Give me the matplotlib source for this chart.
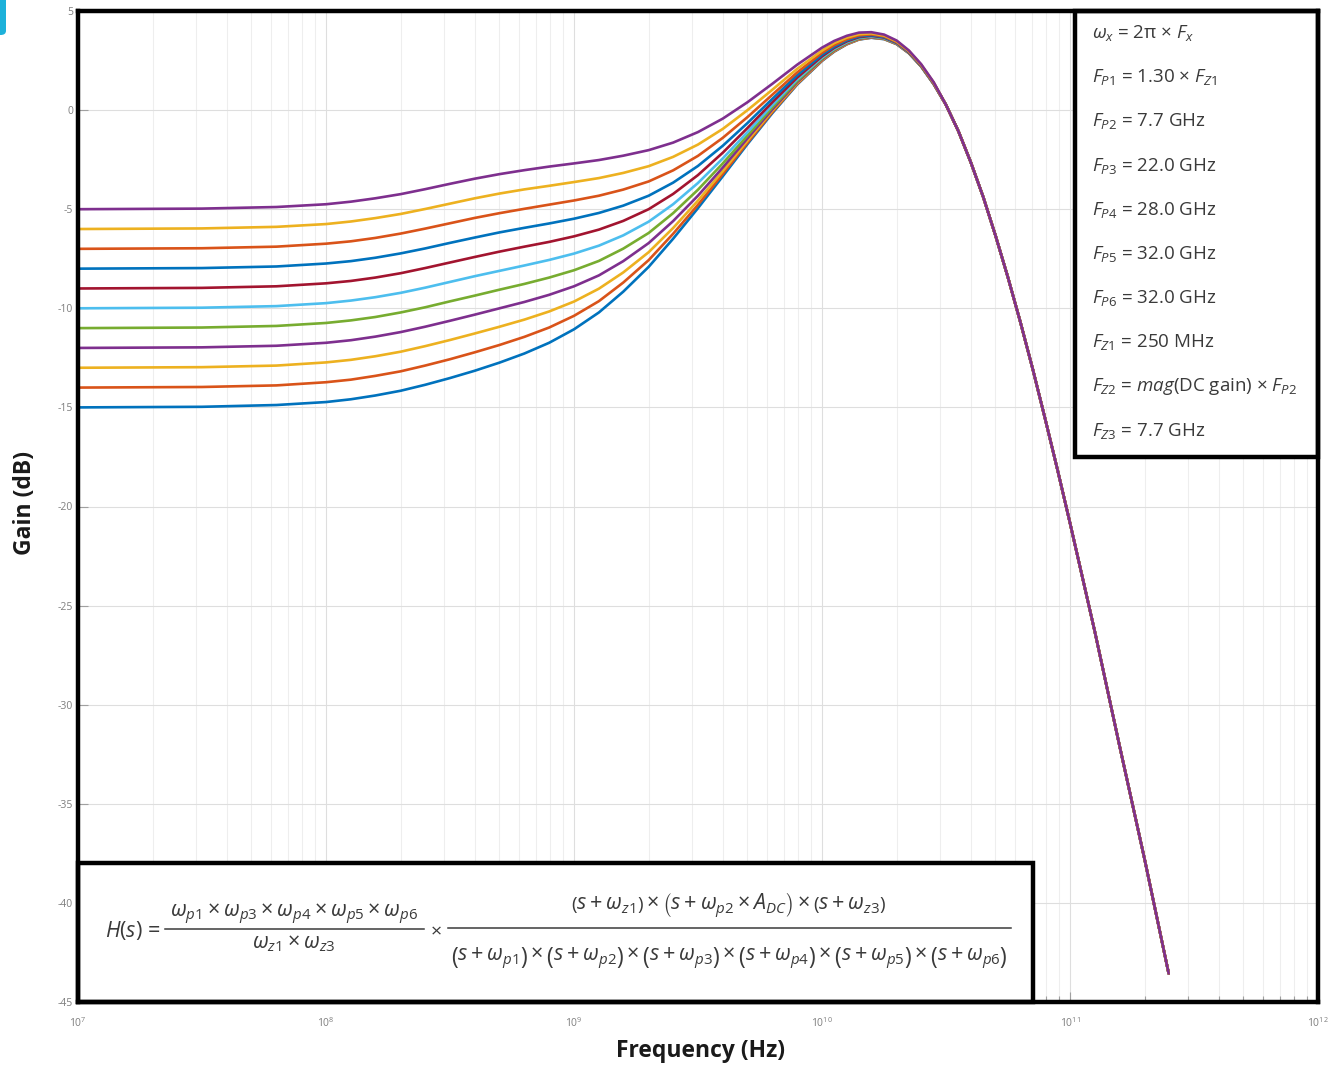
import numpy as np
import matplotlib
matplotlib.use("Agg")
import matplotlib.pyplot as plt
from matplotlib.patches import Rectangle, FancyBboxPatch
from matplotlib.lines import Line2D
from matplotlib.ticker import LogLocator, NullFormatter, FixedLocator

plt.rcParams['font.family'] = ['Open Sans', 'DejaVu Sans']
plt.rcParams['mathtext.fontset'] = 'custom'
plt.rcParams['mathtext.rm'] = 'Open Sans'
plt.rcParams['mathtext.it'] = 'Open Sans:italic'
plt.rcParams['mathtext.bf'] = 'Open Sans:bold'
plt.rcParams['axes.unicode_minus'] = False

# ---------------- data (read / estimated from the reference) ----------------
freq_lo = [1e7, 3.16e7, 6.31e7, 1e8, 1.26e8, 1.58e8, 2e8, 2.51e8, 3.16e8, 3.98e8, 5.01e8,
           6.31e8, 7.94e8, 1e9, 1.26e9, 1.58e9, 2e9, 2.51e9, 3.16e9, 3.98e9, 5.01e9, 6.31e9,
           7.94e9, 1e10, 1.12e10, 1.26e10, 1.41e10, 1.58e10, 1.78e10, 2e10, 2.24e10, 2.51e10, 2.82e10]
freq_hi = [3.16e10, 3.55e10, 3.98e10, 4.47e10, 5.01e10, 5.62e10, 6.31e10, 7.08e10, 7.94e10,
           8.91e10, 1e11, 1.26e11, 1.58e11, 2e11, 2.5e11]

gain_m5 = [-5.00, -4.97, -4.89, -4.75, -4.62, -4.45, -4.24, -3.99, -3.72, -3.46, -3.23, -3.03, -2.85, -2.69, -2.52, -2.30, -2.02, -1.64, -1.11, -0.43, 0.40, 1.33, 2.29, 3.15, 3.49, 3.75, 3.91, 3.93, 3.81, 3.51, 3.01, 2.32, 1.41]
gain_m6 = [-6.00, -5.97, -5.89, -5.75, -5.62, -5.45, -5.24, -4.99, -4.72, -4.45, -4.21, -4.00, -3.82, -3.63, -3.43, -3.17, -2.83, -2.36, -1.74, -0.95, 0.00, 1.03, 2.08, 3.00, 3.38, 3.66, 3.83, 3.87, 3.76, 3.47, 2.98, 2.29, 1.39]
gain_m7 = [-7.00, -6.97, -6.89, -6.74, -6.62, -6.45, -6.23, -5.98, -5.71, -5.44, -5.20, -4.98, -4.77, -4.56, -4.32, -4.01, -3.60, -3.04, -2.31, -1.40, -0.35, 0.78, 1.90, 2.89, 3.28, 3.58, 3.77, 3.82, 3.72, 3.43, 2.96, 2.27, 1.37]
gain_m8 = [-8.00, -7.97, -7.89, -7.74, -7.62, -7.45, -7.23, -6.98, -6.70, -6.43, -6.17, -5.94, -5.72, -5.48, -5.19, -4.82, -4.32, -3.66, -2.82, -1.80, -0.65, 0.57, 1.76, 2.79, 3.20, 3.52, 3.72, 3.78, 3.68, 3.41, 2.94, 2.25, 1.36]
gain_m9 = [-9.00, -8.97, -8.89, -8.74, -8.62, -8.45, -8.23, -7.97, -7.69, -7.41, -7.14, -6.89, -6.65, -6.37, -6.03, -5.59, -5.00, -4.23, -3.28, -2.15, -0.90, 0.40, 1.64, 2.71, 3.14, 3.47, 3.68, 3.75, 3.66, 3.39, 2.92, 2.24, 1.35]
gain_m10 = [-10.00, -9.97, -9.89, -9.74, -9.61, -9.44, -9.22, -8.96, -8.67, -8.38, -8.11, -7.84, -7.56, -7.24, -6.84, -6.32, -5.63, -4.75, -3.68, -2.44, -1.11, 0.26, 1.55, 2.65, 3.09, 3.43, 3.65, 3.72, 3.64, 3.37, 2.91, 2.23, 1.34]
gain_m11 = [-11.00, -10.97, -10.89, -10.74, -10.61, -10.44, -10.21, -9.95, -9.65, -9.36, -9.06, -8.77, -8.45, -8.08, -7.61, -6.99, -6.20, -5.20, -4.02, -2.69, -1.28, 0.14, 1.47, 2.60, 3.05, 3.40, 3.62, 3.70, 3.62, 3.36, 2.90, 2.22, 1.33]
gain_m12 = [-12.00, -11.97, -11.89, -11.74, -11.61, -11.43, -11.20, -10.93, -10.63, -10.32, -10.00, -9.68, -9.32, -8.89, -8.34, -7.62, -6.71, -5.60, -4.32, -2.90, -1.42, 0.04, 1.41, 2.56, 3.02, 3.37, 3.60, 3.68, 3.61, 3.35, 2.89, 2.22, 1.32]
gain_m13 = [-13.00, -12.97, -12.89, -12.73, -12.60, -12.42, -12.19, -11.91, -11.60, -11.27, -10.93, -10.57, -10.16, -9.66, -9.01, -8.19, -7.17, -5.95, -4.57, -3.08, -1.54, -0.03, 1.36, 2.53, 2.99, 3.35, 3.58, 3.67, 3.60, 3.34, 2.88, 2.21, 1.32]
gain_m14 = [-14.00, -13.97, -13.89, -13.73, -13.60, -13.41, -13.18, -12.89, -12.57, -12.22, -11.85, -11.44, -10.97, -10.38, -9.64, -8.70, -7.57, -6.24, -4.78, -3.22, -1.64, -0.10, 1.32, 2.50, 2.97, 3.33, 3.57, 3.66, 3.59, 3.33, 2.88, 2.21, 1.32]
gain_m15 = [-15.00, -14.97, -14.88, -14.73, -14.59, -14.40, -14.16, -13.86, -13.52, -13.15, -12.74, -12.28, -11.74, -11.06, -10.21, -9.16, -7.91, -6.49, -4.95, -3.34, -1.71, -0.15, 1.29, 2.48, 2.95, 3.32, 3.56, 3.65, 3.58, 3.33, 2.87, 2.20, 1.31]
gain_tail = [0.27, -1.07, -2.63, -4.39, -6.34, -8.44, -10.70, -13.08, -15.58, -18.16, -20.83, -26.33, -32.01, -37.81, -43.56]

series = [gain_m15, gain_m14, gain_m13, gain_m12, gain_m11, gain_m10,
          gain_m9, gain_m8, gain_m7, gain_m6, gain_m5]
y_ticks = [-45, -40, -35, -30, -25, -20, -15, -10, -5, 0, 5]

param_lines = [r"$\omega_{x}$ = 2π × $F_{x}$",
               r"$F_{P1}$ = 1.30 × $F_{Z1}$",
               r"$F_{P2}$ = 7.7 GHz",
               r"$F_{P3}$ = 22.0 GHz",
               r"$F_{P4}$ = 28.0 GHz",
               r"$F_{P5}$ = 32.0 GHz",
               r"$F_{P6}$ = 32.0 GHz",
               r"$F_{Z1}$ = 250 MHz",
               r"$F_{Z2}$ = $mag$(DC gain) × $F_{P2}$",
               r"$F_{Z3}$ = 7.7 GHz"]

eq_lhs = r"$H(s)$ ="
eq_num1 = r"$\omega_{p1}\times\omega_{p3}\times\omega_{p4}\times\omega_{p5}\times\omega_{p6}$"
eq_den1 = r"$\omega_{z1}\times\omega_{z3}$"
eq_num2 = (r"$\left(s+\omega_{z1}\right)\times\left(s+\omega_{p2}\times A_{DC}\right)"
           r"\times\left(s+\omega_{z3}\right)$")
eq_den2 = (r"$\left(s+\omega_{p1}\right)\times\left(s+\omega_{p2}\right)\times\left(s+\omega_{p3}\right)"
           r"\times\left(s+\omega_{p4}\right)\times\left(s+\omega_{p5}\right)\times\left(s+\omega_{p6}\right)$")

colors = ['#0072BD', '#D95319', '#EDB120', '#7E2F8E', '#77AC30', '#4DBEEE', '#A2142F']

# ---------------- figure ----------------
W, Hh = 1332, 1065
fig = plt.figure(figsize=(W/100, Hh/100), dpi=100)
L, R, T, B = 78, 1318, 11, 1002
ax = fig.add_axes([L/W, 1-B/Hh, (R-L)/W, (B-T)/Hh])
ax.set_xscale('log')
ax.set_xlim(1e7, 1e12)
ax.set_ylim(-45, 5)

x_all = freq_lo + freq_hi
for i, g in enumerate(series):
    ax.plot(x_all, g + gain_tail, color=colors[i % 7], lw=1.9,
            solid_capstyle='round', solid_joinstyle='round', zorder=3)

ax.yaxis.set_major_locator(FixedLocator(y_ticks))
ax.set_yticklabels([str(v) for v in y_ticks])
ax.xaxis.set_major_locator(LogLocator(base=10, numticks=20))
ax.xaxis.set_minor_locator(LogLocator(base=10, subs=np.arange(2, 10), numticks=100))
ax.xaxis.set_minor_formatter(NullFormatter())
ax.tick_params(which='both', direction='in', colors='#a0a0a0', labelcolor='#7f7f7f',
               labelsize=7.5, width=0.8)
ax.tick_params(which='major', length=7)
ax.tick_params(which='minor', length=4)
ax.tick_params(axis='x', which='major', pad=10)
ax.grid(True, which='major', color='#dedede', lw=0.8)
ax.grid(True, which='minor', axis='x', color='#eeeeee', lw=0.8)
ax.set_axisbelow(True)
for sp in ax.spines.values():
    sp.set_linewidth(3.2)
    sp.set_color('black')
    sp.set_zorder(10)

# parameter box
bx0 = (1075-L)/(R-L); by0 = (B-457)/(B-T)
ax.add_patch(Rectangle((bx0, by0), 1-bx0, 1-by0, transform=ax.transAxes,
                       facecolor='white', edgecolor='black', lw=3.2, zorder=8, clip_on=False))
for k, t in enumerate(param_lines):
    yy = 33 + 44.2*k
    fig.text(1092/W, 1-yy/Hh, t, ha='left', va='center', fontsize=13.5, color='#3a3a3a', zorder=9)

# equation box
ex1 = (1033-L)/(R-L); ey1 = (B-863)/(B-T)
ax.add_patch(Rectangle((0, 0), ex1, ey1, transform=ax.transAxes,
                       facecolor='white', edgecolor='black', lw=3.2, zorder=8, clip_on=False))
tc = '#3a3a3a'
def ftxt(x, y, s, ha='center', fs=15.5):
    fig.text(x/W, 1-y/Hh, s, ha=ha, va='center', fontsize=fs, color=tc, zorder=9)
def fline(x0, x1, y):
    fig.add_artist(Line2D([x0/W, x1/W], [1-y/Hh, 1-y/Hh], color=tc, lw=1.1, zorder=9))
ftxt(105, 930, eq_lhs, ha='left')
ftxt(294, 914, eq_num1)
fline(165, 424, 929)
ftxt(294, 944, eq_den1)
ftxt(436, 930, r"$\times$", fs=14)
ftxt(729, 905, eq_num2)
fline(448, 1011, 928)
ftxt(729, 958, eq_den2)

fig.text(25/W, 1-503/Hh, 'Gain (dB)', rotation=90, ha='center', va='center',
         fontsize=16.5, fontweight='bold', color='#1a1a1a')
fig.text(700/W, 1-1051/Hh, 'Frequency (Hz)', ha='center', va='center',
         fontsize=16.5, fontweight='bold', color='#1a1a1a')

fig.patches.append(FancyBboxPatch((-0.01, 1-35/Hh), 6/W+0.01, 35/Hh+0.01,
                                  boxstyle='round,pad=0,rounding_size=0.004',
                                  transform=fig.transFigure, facecolor='#1db1da', edgecolor='none'))

fig.savefig("out.png")
